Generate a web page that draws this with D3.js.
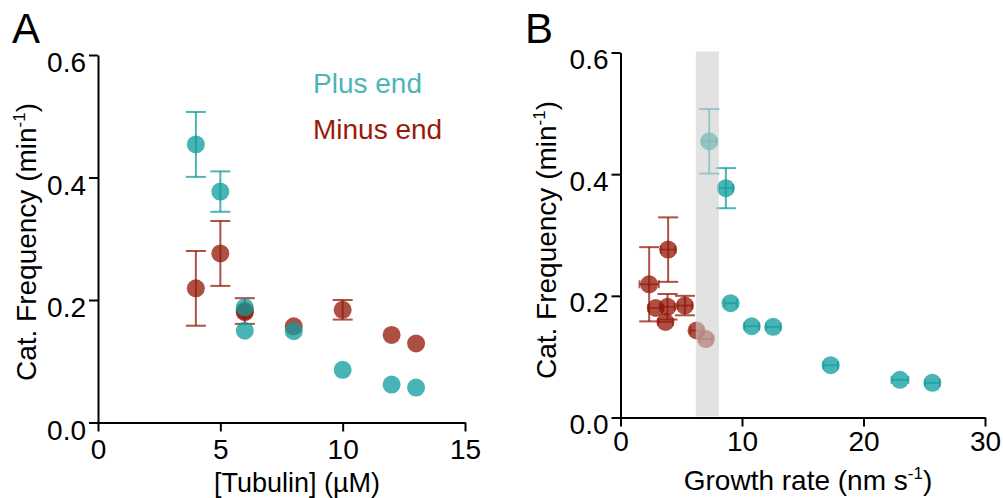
<!DOCTYPE html>
<html>
<head>
<meta charset="utf-8">
<script src="https://cdn.jsdelivr.net/npm/d3@7"></script>
<style>
  html, body { margin: 0; padding: 0; background: #fff; }
  svg { display: block; }
  text { font-family: "Liberation Sans", Arial, Helvetica, sans-serif; }
</style>
</head>
<body>
<svg id="fig" width="1003" height="498"></svg>
<script>
// Catastrophe frequency vs tubulin concentration and vs growth rate
const plusTubulin    = [4, 5, 6, 6, 8, 10, 12, 13];
const plusCat        = [0.454, 0.377, 0.188, 0.150, 0.149, 0.086, 0.062, 0.057];
const plusCatErr     = [0.053, 0.033, 0, 0, 0, 0, 0, 0];
const plusGrowth     = [7.3, 8.67, 9.06, 10.8, 12.57, 17.3, 23.0, 25.67];
const plusGrowthErr  = [0.6, 0.6, 0.5, 0.6, 0.6, 0.6, 0.7, 0.6];

const minusTubulin   = [4, 5, 6, 6, 8, 10, 12, 13];
const minusCat       = [0.219, 0.276, 0.182, 0.180, 0.157, 0.184, 0.143, 0.129];
const minusCatErr    = [0.061, 0.053, 0.021, 0, 0, 0.016, 0, 0];
const minusGrowth    = [2.36, 3.92, 3.87, 2.9, 3.7, 5.3, 6.26, 7.03];
const minusGrowthErr = [0.8, 0.6, 0.6, 0.6, 0.6, 0.6, 0.5, 0.5];

const shadedRange = [6.2, 8.1];

const yTicks  = [0, 0.2, 0.4, 0.6];
const xTicksA = [0, 5, 10, 15];
const xTicksB = [0, 10, 20, 30];

const seriesNames = ["Plus end", "Minus end"];

const TEAL = "#0f9c9e", RED = "#941808";
const TEAL_TEXT = "#4bb5b8", RED_TEXT = "#9a1a0a";
const R = 9, CAP = 10, XCAP = 4;

const svg = d3.select("#fig");

function rows(xs, ys, yerr, xerr) {
  return xs.map((x, i) => ({ x, y: ys[i], ey: yerr ? yerr[i] : 0, ex: xerr ? xerr[i] : 0 }));
}

function axes(g, x, y, xTicks, xPad, yShift) {
  const ax = g.append("g")
    .attr("transform", `translate(0,${y(0)})`)
    .call(d3.axisBottom(x).tickValues(xTicks).tickFormat(d3.format("d"))
      .tickSize(9).tickSizeOuter(0).tickPadding(xPad));
  const ay = g.append("g")
    .attr("transform", `translate(${x(0)},0)`)
    .call(d3.axisLeft(y).tickValues(yTicks).tickFormat(d3.format(".1f"))
      .tickSize(9).tickSizeOuter(0).tickPadding(3));
  [ax, ay].forEach(a => {
    a.select(".domain").attr("stroke", "#000").attr("stroke-width", 2);
    a.selectAll(".tick line").attr("stroke", "#000").attr("stroke-width", 2);
    a.selectAll(".tick text").attr("fill", "#000")
      .style("font-size", "28px").style("font-family", '"Liberation Sans", Arial, sans-serif');
  });
  ay.selectAll(".tick text").attr("y", yShift);
}

function yLabel(g, cx, cy) {
  const t = g.append("text")
    .attr("transform", `translate(${cx},${cy}) rotate(-90)`)
    .attr("text-anchor", "middle")
    .style("font-size", "28px").attr("fill", "#000");
  t.append("tspan").text("Cat. Frequency (min");
  t.append("tspan").text("-1").style("font-size", "17px").attr("dy", -11);
  t.append("tspan").text(")").attr("dy", 11);
}

function yErrBars(g, data, x, y, color) {
  const d = data.filter(p => p.ey > 0);
  const eg = g.append("g").attr("stroke", color).attr("stroke-width", 2).attr("stroke-opacity", 0.75);
  d.forEach(p => {
    const px = x(p.x), lo = y(p.y - p.ey), hi = y(p.y + p.ey);
    eg.append("line").attr("x1", px).attr("x2", px).attr("y1", lo).attr("y2", hi);
    eg.append("line").attr("x1", px - CAP).attr("x2", px + CAP).attr("y1", lo).attr("y2", lo);
    eg.append("line").attr("x1", px - CAP).attr("x2", px + CAP).attr("y1", hi).attr("y2", hi);
  });
}

function xErrBars(g, data, x, y, color) {
  const eg = g.append("g").attr("stroke", color).attr("stroke-width", 1.8).attr("stroke-opacity", 0.7);
  data.forEach(p => {
    const py = y(p.y), lo = x(p.x - p.ex), hi = x(p.x + p.ex);
    eg.append("line").attr("x1", lo).attr("x2", hi).attr("y1", py).attr("y2", py);
    eg.append("line").attr("x1", lo).attr("x2", lo).attr("y1", py - XCAP).attr("y2", py + XCAP);
    eg.append("line").attr("x1", hi).attr("x2", hi).attr("y1", py - XCAP).attr("y2", py + XCAP);
  });
}

function dots(g, data, x, y, color) {
  g.append("g").selectAll("circle").data(data).join("circle")
    .attr("cx", p => x(p.x)).attr("cy", p => y(p.y)).attr("r", R)
    .attr("fill", color).attr("fill-opacity", 0.76);
}

// ---- Panel A: catastrophe frequency vs [tubulin]
{
  const g = svg.append("g");
  const x = d3.scaleLinear().domain([0, 15]).range([98, 465]);
  const y = d3.scaleLinear().domain([0, 0.6]).range([422.5, 55]);
  axes(g, x, y, xTicksA, 8, 8);

  const minus = rows(minusTubulin, minusCat, minusCatErr);
  const plus = rows(plusTubulin, plusCat, plusCatErr);
  yErrBars(g, minus, x, y, RED);
  yErrBars(g, plus, x, y, TEAL);
  dots(g, minus, x, y, RED);
  dots(g, plus, x, y, TEAL);

  g.append("text").attr("x", 313).attr("y", 93).text(seriesNames[0])
    .style("font-size", "28px").attr("fill", TEAL_TEXT);
  g.append("text").attr("x", 313).attr("y", 139).text(seriesNames[1])
    .style("font-size", "28px").attr("fill", RED_TEXT);

  g.append("text").attr("x", 12).attr("y", 43).text("A")
    .style("font-size", "42px").attr("fill", "#000");
  yLabel(g, 36, 242);
  g.append("text").attr("x", 297).attr("y", 492).attr("text-anchor", "middle")
    .style("font-size", "27px").attr("fill", "#000").text("[Tubulin] (µM)");
}

// ---- Panel B: catastrophe frequency vs growth rate
{
  const g = svg.append("g");
  const x = d3.scaleLinear().domain([0, 30]).range([620.5, 985]);
  const y = d3.scaleLinear().domain([0, 0.6]).range([417.5, 52.5]);
  axes(g, x, y, xTicksB, 5, 7);

  const minus = rows(minusGrowth, minusCat, minusCatErr, minusGrowthErr);
  const plus = rows(plusGrowth, plusCat, plusCatErr, plusGrowthErr);
  dots(g, minus, x, y, RED);
  dots(g, plus, x, y, TEAL);
  yErrBars(g, minus, x, y, RED);
  yErrBars(g, plus, x, y, TEAL);
  xErrBars(g, minus, x, y, RED);
  xErrBars(g, plus, x, y, TEAL);

  // shaded growth-rate window, laid over the points
  g.append("rect")
    .attr("x", x(shadedRange[0])).attr("width", x(shadedRange[1]) - x(shadedRange[0]))
    .attr("y", y(0.6) - 1).attr("height", y(0) - y(0.6))
    .attr("fill", "#cfcfcf").attr("fill-opacity", 0.6);

  g.append("text").attr("x", 525).attr("y", 43).text("B")
    .style("font-size", "42px").attr("fill", "#000");
  yLabel(g, 556, 240);
  const xl = g.append("text").attr("x", 808).attr("y", 490).attr("text-anchor", "middle")
    .style("font-size", "28px").attr("fill", "#000");
  xl.append("tspan").text("Growth rate (nm s");
  xl.append("tspan").text("-1").style("font-size", "17px").attr("dy", -11);
  xl.append("tspan").text(")").attr("dy", 11);
}
</script>
</body>
</html>
